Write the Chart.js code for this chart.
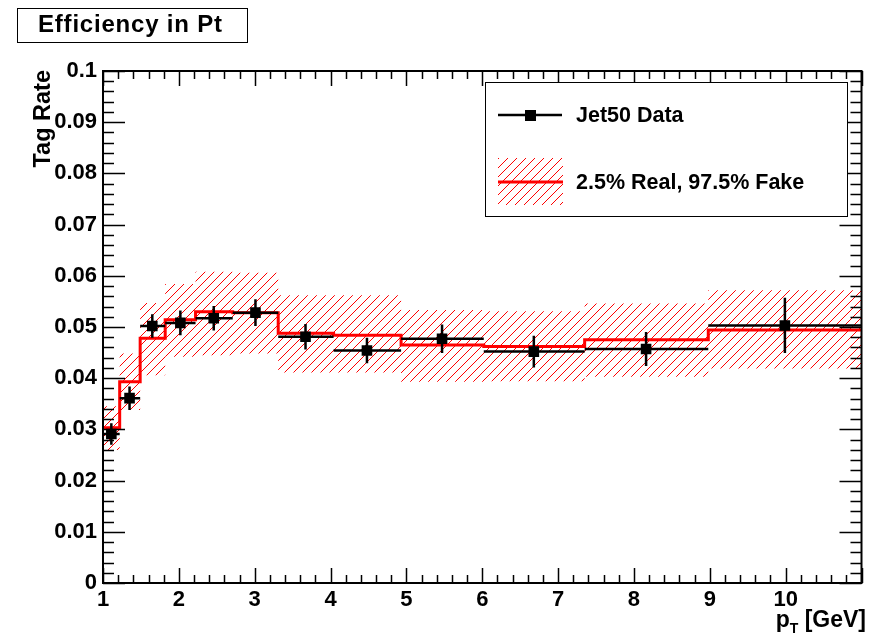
<!DOCTYPE html>
<html>
<head>
<meta charset="utf-8">
<script src="https://cdn.jsdelivr.net/npm/chart.js@4.4.1/dist/chart.umd.min.js"></script>
<style>
  html, body { margin: 0; padding: 0; background: #fff; }
  #wrap { width: 869px; height: 636px; position: relative; }
</style>
</head>
<body>
<div id="wrap"><canvas id="chart"></canvas></div>
<script>
// pT bin edges [GeV]
const binEdges = [1, 1.22, 1.49, 1.82, 2.22, 2.71, 3.31, 4.04, 4.93, 6.02, 7.35, 8.98, 11];

// Jet50 data points (bin centre, tag rate, error)
const dataX = [1.11, 1.35, 1.65, 2.02, 2.46, 3.01, 3.67, 4.48, 5.47, 6.68, 8.16, 9.99];
const dataY = [0.0291, 0.0361, 0.0502, 0.0508, 0.0517, 0.0528, 0.0481, 0.0454, 0.0477, 0.0452, 0.0457, 0.0503];
const dataErr = [0.0021, 0.0023, 0.0023, 0.0024, 0.0024, 0.0026, 0.0025, 0.0025, 0.0028, 0.0031, 0.0033, 0.0054];

// Prediction: 2.5% real, 97.5% fake, with error band
const predY = [0.0303, 0.0393, 0.0478, 0.0514, 0.0530, 0.0528, 0.0488, 0.0484, 0.0465, 0.0462, 0.0475, 0.0494];
const bandHi = [0.0345, 0.0448, 0.0547, 0.0584, 0.0608, 0.0606, 0.0562, 0.0562, 0.0533, 0.0531, 0.0546, 0.0572];
const bandLo = [0.0260, 0.0338, 0.0406, 0.0442, 0.0445, 0.0448, 0.0411, 0.0411, 0.0393, 0.0394, 0.0403, 0.0419];

const titleText = 'Efficiency in Pt';
const dataLabel = 'Jet50 Data';
const predLabel = '2.5% Real, 97.5% Fake';

const FONT = '"Liberation Sans", Arial, Helvetica, sans-serif';

// histogram -> stepped points (first point on the left edge, then each bin's right edge)
function histPoints(vals) {
    const pts = [{ x: binEdges[0], y: vals[0] }];
    vals.forEach((v, i) => pts.push({ x: binEdges[i + 1], y: v }));
    return pts;
}

// ROOT style "/" hatching
function makeHatch(ctx) {
    const s = 9;
    const c = document.createElement('canvas');
    c.width = s; c.height = s;
    const g = c.getContext('2d');
    g.strokeStyle = '#ff0000';
    g.lineWidth = 1;
    g.beginPath();
    g.moveTo(0, s); g.lineTo(s, 0);
    g.moveTo(-2, 2); g.lineTo(2, -2);
    g.moveTo(s - 2, s + 2); g.lineTo(s + 2, s - 2);
    g.stroke();
    return ctx.createPattern(c, 'repeat');
}

const canvas = document.getElementById('chart');
canvas.width = 869;
canvas.height = 636;
const hatch = makeHatch(canvas.getContext('2d'));

// error bars for the data points, drawn just before the markers
const errorBars = {
    id: 'errorBars',
    beforeDatasetDraw(chart, args) {
        if (args.index !== 0) return;
        const { ctx, scales: { x, y } } = chart;
        ctx.save();
        ctx.strokeStyle = '#000';
        ctx.lineWidth = 2.5;
        ctx.beginPath();
        dataX.forEach((xv, i) => {
            const px = x.getPixelForValue(xv);
            const py = y.getPixelForValue(dataY[i]);
            ctx.moveTo(x.getPixelForValue(binEdges[i]), py);
            ctx.lineTo(x.getPixelForValue(binEdges[i + 1]), py);
            ctx.moveTo(px, y.getPixelForValue(dataY[i] + dataErr[i]));
            ctx.lineTo(px, y.getPixelForValue(dataY[i] - dataErr[i]));
        });
        ctx.stroke();
        ctx.restore();
    }
};

// frame, inward ticks, titles, legend
const rootFrame = {
    id: 'rootFrame',
    afterDraw(chart) {
        const { ctx, chartArea: a, scales: { x, y } } = chart;
        ctx.save();
        ctx.strokeStyle = '#000';
        ctx.fillStyle = '#000';

        // ticks
        ctx.lineWidth = 1.5;
        ctx.beginPath();
        for (let k = 0; k <= 50; k++) {
            const v = 1 + k * 0.2;
            const px = Math.round(x.getPixelForValue(v)) + 0.5;
            const len = k % 5 === 0 ? 15 : 8;
            ctx.moveTo(px, a.bottom); ctx.lineTo(px, a.bottom - len);
            ctx.moveTo(px, a.top); ctx.lineTo(px, a.top + len);
        }
        for (let k = 0; k <= 50; k++) {
            const py = Math.round(y.getPixelForValue(k * 0.002)) + 0.5;
            const len = k % 5 === 0 ? 22 : 11;
            ctx.moveTo(a.left, py); ctx.lineTo(a.left + len, py);
            ctx.moveTo(a.right, py); ctx.lineTo(a.right - len, py);
        }
        ctx.stroke();

        // frame
        ctx.lineWidth = 2;
        ctx.strokeRect(a.left, a.top, a.right - a.left, a.bottom - a.top);

        // y axis title
        ctx.save();
        ctx.translate(50, 70);
        ctx.rotate(-Math.PI / 2);
        ctx.font = 'bold 23.5px ' + FONT;
        ctx.textAlign = 'right';
        ctx.textBaseline = 'alphabetic';
        ctx.fillText('Tag Rate', 0, 0);
        ctx.restore();

        // x axis title: p_T [GeV]
        ctx.textBaseline = 'alphabetic';
        ctx.textAlign = 'right';
        let xr = 866;
        ctx.font = 'bold 23px ' + FONT;
        ctx.fillText('[GeV]', xr, 627);
        xr -= ctx.measureText('[GeV]').width + ctx.measureText(' ').width;
        ctx.font = 'bold 14px ' + FONT;
        ctx.fillText('T', xr, 633);
        xr -= ctx.measureText('T').width;
        ctx.font = 'bold 23px ' + FONT;
        ctx.fillText('p', xr, 627);

        // title box
        ctx.lineWidth = 1;
        ctx.fillStyle = '#fff';
        ctx.fillRect(17.5, 8.5, 230, 34);
        ctx.strokeRect(17.5, 8.5, 230, 34);
        ctx.fillStyle = '#000';
        ctx.textAlign = 'left';
        ctx.font = 'bold 24px ' + FONT;
        ctx.letterSpacing = '0.8px';
        ctx.fillText(titleText, 38, 32);
        ctx.letterSpacing = '0px';

        // legend
        ctx.fillStyle = '#fff';
        ctx.fillRect(485.5, 82.5, 362, 134);
        ctx.strokeRect(485.5, 82.5, 362, 134);

        ctx.strokeStyle = '#000';
        ctx.lineWidth = 2.5;
        ctx.beginPath();
        ctx.moveTo(498, 115); ctx.lineTo(562, 115);
        ctx.stroke();
        ctx.fillStyle = '#000';
        ctx.fillRect(525, 110, 11, 11);

        ctx.fillStyle = hatch;
        ctx.fillRect(498, 158, 65, 47);
        ctx.strokeStyle = '#ff0000';
        ctx.lineWidth = 3;
        ctx.beginPath();
        ctx.moveTo(498, 182); ctx.lineTo(563, 182);
        ctx.stroke();

        ctx.fillStyle = '#000';
        ctx.font = 'bold 21.5px ' + FONT;
        ctx.textBaseline = 'middle';
        ctx.fillText(dataLabel, 576, 116);
        ctx.fillText(predLabel, 576, 183);
        ctx.restore();
    }
};

new Chart(canvas, {
    type: 'line',
    data: {
        datasets: [
            {
                label: dataLabel,
                type: 'scatter',
                data: dataX.map((xv, i) => ({ x: xv, y: dataY[i] })),
                showLine: false,
                pointStyle: 'rect',
                pointRadius: 7.5,
                pointBackgroundColor: '#000',
                pointBorderColor: '#000',
                pointBorderWidth: 0
            },
            {
                label: predLabel,
                data: histPoints(predY),
                stepped: 'after',
                borderColor: '#ff0000',
                borderWidth: 3,
                pointRadius: 0,
                fill: false
            },
            {
                label: 'band up',
                data: histPoints(bandHi),
                stepped: 'after',
                borderWidth: 0,
                borderColor: 'rgba(0,0,0,0)',
                pointRadius: 0,
                fill: false
            },
            {
                label: 'band down',
                data: histPoints(bandLo),
                stepped: 'after',
                borderWidth: 0,
                borderColor: 'rgba(0,0,0,0)',
                backgroundColor: hatch,
                pointRadius: 0,
                fill: '-1'
            }
        ]
    },
    options: {
        responsive: false,
        animation: false,
        devicePixelRatio: 1,
        layout: { padding: { top: 71, right: 3, left: 0, bottom: 0 } },
        plugins: {
            legend: { display: false },
            tooltip: { enabled: false },
            title: { display: false }
        },
        scales: {
            x: {
                type: 'linear',
                min: 1,
                max: 11,
                grid: { display: false, drawTicks: false },
                border: { display: false },
                ticks: {
                    stepSize: 1,
                    padding: 4,
                    autoSkip: false,
                    maxRotation: 0,
                    color: '#000',
                    font: { family: FONT, size: 22, weight: 'bold' },
                    callback: v => (v === 11 ? '' : String(v))
                },
                afterFit: s => { s.height = 53; }
            },
            y: {
                type: 'linear',
                min: 0,
                max: 0.1,
                grid: { display: false, drawTicks: false },
                border: { display: false },
                ticks: {
                    stepSize: 0.01,
                    padding: 6,
                    color: '#000',
                    font: { family: FONT, size: 22, weight: 'bold' },
                    callback: v => (v === 0 ? '0' : String(+v.toFixed(2)))
                },
                afterFit: s => { s.width = 103; }
            }
        }
    },
    plugins: [errorBars, rootFrame]
});
</script>
</body>
</html>
